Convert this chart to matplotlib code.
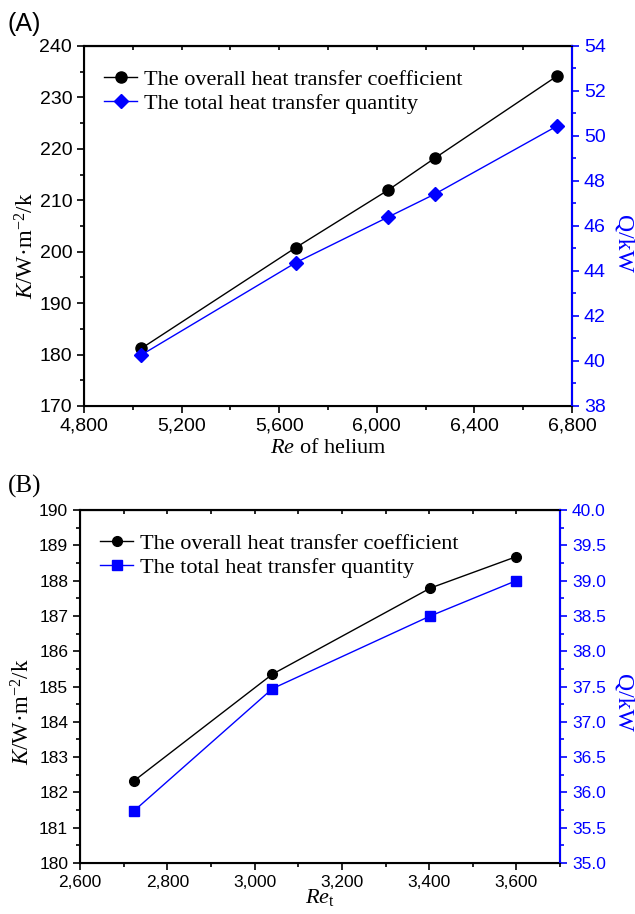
"""
Heat transfer coefficient K and total heat transfer Q versus Reynolds number,
two panels (A: helium side, B: tube side).
"""

import matplotlib.pyplot as plt
from matplotlib.ticker import FuncFormatter, MultipleLocator

plt.rcParams.update({
    "font.family": "Liberation Sans",
    "font.size": 13,
    "mathtext.fontset": "custom",
    "mathtext.rm": "Liberation Serif",
    "mathtext.it": "Liberation Serif:italic",
    "mathtext.bf": "Liberation Serif:bold",
})

SERIF = "Liberation Serif"
BLUE = "#0000ff"

# panel A: Re of helium
re_helium = [5035, 5668, 6047, 6238, 6740]
k_helium = [181.2, 200.8, 212.0, 218.2, 234.2]
q_helium = [40.27, 44.37, 46.4, 47.42, 50.45]

# panel B: Re_t
re_tube = [2724, 3041, 3403, 3600]
k_tube = [182.33, 185.35, 187.79, 188.68]
q_tube = [35.74, 37.47, 38.5, 39.0]

LABEL_K = "The overall heat transfer coefficient"
LABEL_Q = "The total heat transfer quantity"
YLABEL_K = "$K$/W·m$^{-2}$/k"

thousands = FuncFormatter(lambda v, _: f"{v:,.0f}")


def style_axes(ax, ax2, tsize):
    ax.tick_params(axis="both", which="major", direction="out", length=5, width=1.2, labelsize=tsize)
    ax.tick_params(axis="both", which="minor", direction="out", length=3, width=1.2)
    for s in ax.spines.values():
        s.set_linewidth(1.5)
    ax2.spines["right"].set_color(BLUE)
    ax2.spines["right"].set_linewidth(1.5)
    ax2.tick_params(axis="y", which="major", colors=BLUE, length=5, width=1.2, labelsize=tsize)
    ax2.tick_params(axis="y", which="minor", colors=BLUE, length=3, width=1.2)
    # top ticks, inward, no labels
    top = ax.secondary_xaxis("top")
    top.xaxis.set_major_locator(ax.xaxis.get_major_locator())
    top.xaxis.set_minor_locator(ax.xaxis.get_minor_locator())
    top.tick_params(which="both", direction="in", length=3, width=1.2, labeltop=False)
    top.spines["top"].set_linewidth(1.5)


def add_legend(ax, handles):
    ax.legend(handles=handles, loc="upper left", frameon=False,
              prop={"family": SERIF, "size": 16}, handlelength=1.5,
              handletextpad=0.3, borderaxespad=0.5, labelspacing=0.15,
              bbox_to_anchor=(0.0, 0.99))


fig = plt.figure(figsize=(6.35, 9.14), dpi=100)

# ---- panel A ----
axA = fig.add_axes([0.1323, 0.5558, 0.7685, 0.3939])
axA2 = axA.twinx()
hk, = axA.plot(re_helium, k_helium, color="black", marker="o", markersize=8, linewidth=1, label=LABEL_K)
hq, = axA2.plot(re_helium, q_helium, color=BLUE, marker="D", markersize=7.5, linewidth=1, label=LABEL_Q)
axA.set_xlim(4800, 6800)
axA.set_ylim(170, 240)
axA2.set_ylim(38, 54)
axA.xaxis.set_major_locator(MultipleLocator(400))
axA.xaxis.set_minor_locator(MultipleLocator(200))
axA.xaxis.set_major_formatter(thousands)
axA.yaxis.set_major_locator(MultipleLocator(10))
axA.yaxis.set_minor_locator(MultipleLocator(5))
axA2.yaxis.set_major_locator(MultipleLocator(2))
axA2.yaxis.set_minor_locator(MultipleLocator(1))
axA.set_xlabel("$Re$ of helium", fontsize=16, family=SERIF, labelpad=3)
axA.set_ylabel(YLABEL_K, fontsize=16.5, family=SERIF, labelpad=1)
axA2.set_ylabel("Q/kW", fontsize=17, family=SERIF, color=BLUE, rotation=270, labelpad=20)
axA.yaxis.label.set_y(0.444)
axA2.yaxis.label.set_y(0.45)
style_axes(axA, axA2, 14)
add_legend(axA, [hk, hq])
fig.text(0.012, 0.974, "(A)", fontsize=18, va="center", ha="left")

# ---- panel B ----
axB = fig.add_axes([0.126, 0.0558, 0.756, 0.3862])
axB2 = axB.twinx()
hk, = axB.plot(re_tube, k_tube, color="black", marker="o", markersize=7, linewidth=1, label=LABEL_K)
hq, = axB2.plot(re_tube, q_tube, color=BLUE, marker="s", markersize=6.5, linewidth=1, label=LABEL_Q)
axB.set_xlim(2600, 3700)
axB.set_ylim(180, 190)
axB2.set_ylim(35, 40)
axB.xaxis.set_major_locator(MultipleLocator(200))
axB.xaxis.set_minor_locator(MultipleLocator(100))
axB.xaxis.set_major_formatter(thousands)
axB.yaxis.set_major_locator(MultipleLocator(1))
axB.yaxis.set_minor_locator(MultipleLocator(0.5))
axB2.yaxis.set_major_locator(MultipleLocator(0.5))
axB2.yaxis.set_minor_locator(MultipleLocator(0.25))
axB2.yaxis.set_major_formatter(FuncFormatter(lambda v, _: f"{v:.1f}"))
axB.set_xlabel("$Re_{\\mathrm{t}}$", fontsize=16, family=SERIF, labelpad=-2)
axB.set_ylabel(YLABEL_K, fontsize=16.5, family=SERIF, labelpad=3)
axB2.set_ylabel("Q/kW", fontsize=17, family=SERIF, color=BLUE, rotation=270, labelpad=20)
axB.yaxis.label.set_y(0.428)
axB2.yaxis.label.set_y(0.453)
style_axes(axB, axB2, 12.5)
add_legend(axB, [hk, hq])
fig.text(0.012, 0.468, "(B)", fontsize=18, va="center", ha="left", family=SERIF)

fig.savefig("out.png", dpi=100)
